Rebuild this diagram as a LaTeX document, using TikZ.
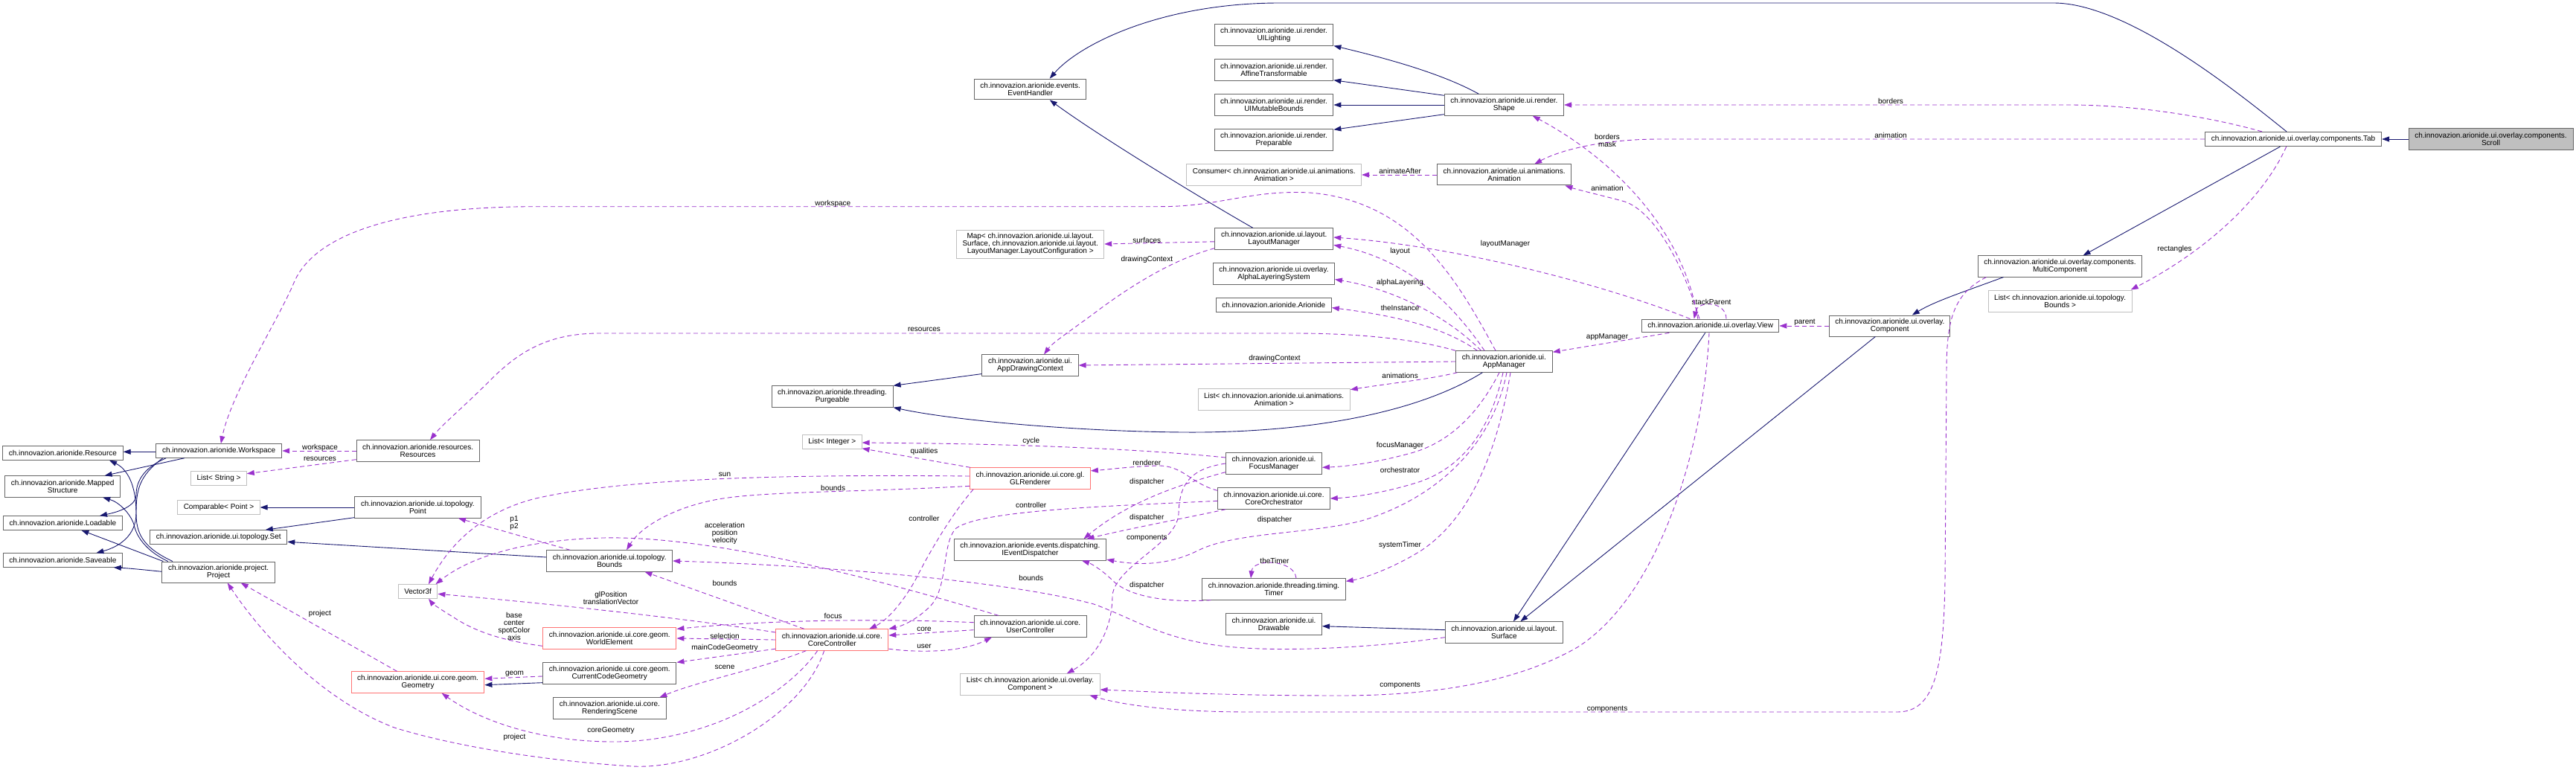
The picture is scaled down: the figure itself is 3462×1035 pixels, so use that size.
\documentclass[tikz,border=0pt]{standalone}
\usepackage{fontspec}
\setmainfont{Liberation Sans}
\usetikzlibrary{arrows.meta,calc}
\definecolor{inhc}{HTML}{191970}
\definecolor{usec}{HTML}{9A32CD}
\definecolor{boxc}{HTML}{666666}
\definecolor{redc}{HTML}{FF7373}
\definecolor{tmplc}{HTML}{BFBFBF}
\definecolor{scrollc}{HTML}{BFBFBF}
\begin{document}
\begin{tikzpicture}[x=1pt,y=-1pt,
  every node/.style={font=\fontsize{10}{10}\selectfont, inner sep=0pt, align=center},
  cls/.style={draw=boxc, line width=1pt, fill=white},
  tpl/.style={draw=tmplc, line width=1pt, fill=white},
  trunc/.style={draw=redc, line width=1pt, fill=white},
  cur/.style={draw=boxc, line width=1pt, fill=scrollc},
  sz/.style 2 args={minimum width=#1pt, minimum height=#2pt},
  inh/.style={draw=inhc, line width=0.9pt, -{Triangle[length=10pt,width=7pt]}},
  use/.style={draw=usec, line width=0.9pt, dash pattern=on 6pt off 4pt, -{Triangle[length=10pt,width=7pt]}},
  lbl/.style={fill=none}
]
\useasboundingbox (0,0) rectangle (3462,1035);
% ---------- nodes ----------
\node[cls,sz={161.6}{18.5}] (Resource) at (84.4,609) {ch.innovazion.arionide.Resource};
\node[cls,sz={169}{18.5}] (Workspace) at (294.2,606) {ch.innovazion.arionide.Workspace};
\node[cls,sz={155}{28.3}] (Mapped) at (84.2,654) {ch.innovazion.arionide.Mapped\\Structure};
\node[cls,sz={159.8}{18.5}] (Loadable) at (84.4,703) {ch.innovazion.arionide.Loadable};
\node[cls,sz={159.8}{18.5}] (Saveable) at (84.4,753) {ch.innovazion.arionide.Saveable};
\node[cls,sz={151.7}{28}] (Project) at (293.7,769) {ch.innovazion.arionide.project.\\Project};
\node[cls,sz={165}{28.3}] (Resources) at (561.6,606) {ch.innovazion.arionide.resources.\\Resources};
\node[tpl,sz={74.6}{18.5}] (ListString) at (294,643) {List< String >};
\node[tpl,sz={110.3}{19}] (Comparable) at (294,682) {Comparable< Point >};
\node[cls,sz={169.2}{28.3}] (Point) at (561.4,682) {ch.innovazion.arionide.ui.topology.\\Point};
\node[cls,sz={184}{18.6}] (Set) at (293.8,722) {ch.innovazion.arionide.ui.topology.Set};
\node[tpl,sz={52.7}{18.5}] (Vector) at (561.6,795) {Vector3f};
\node[trunc,sz={178.6}{28.3}] (Geometry) at (561.6,917) {ch.innovazion.arionide.ui.core.geom.\\Geometry};
\node[tpl,sz={79.5}{19}] (ListInteger) at (1118.3,594) {List< Integer >};
\node[cls,sz={168.8}{28.3}] (Bounds) at (819.2,754) {ch.innovazion.arionide.ui.topology.\\Bounds};
\node[trunc,sz={179.5}{28.3}] (WorldElement) at (819.2,858) {ch.innovazion.arionide.ui.core.geom.\\WorldElement};
\node[trunc,sz={151}{28.3}] (CoreController) at (1118.3,860) {ch.innovazion.arionide.ui.core.\\CoreController};
\node[cls,sz={179.5}{28.3}] (CurrentCode) at (819.2,905) {ch.innovazion.arionide.ui.core.geom.\\CurrentCodeGeometry};
\node[cls,sz={151.3}{28.3}] (RenderingScene) at (819.4,952) {ch.innovazion.arionide.ui.core.\\RenderingScene};
\node[trunc,sz={161.7}{28.3}] (GLRenderer) at (1384.5,643) {ch.innovazion.arionide.ui.core.gl.\\GLRenderer};
\node[cls,sz={129}{28.3}] (FocusManager) at (1712,623) {ch.innovazion.arionide.ui.\\FocusManager};
\node[cls,sz={150.5}{28.3}] (CoreOrchestrator) at (1712,670) {ch.innovazion.arionide.ui.core.\\CoreOrchestrator};
\node[cls,sz={204.6}{28.3}] (Dispatcher) at (1384.4,739) {ch.innovazion.arionide.events.dispatching.\\IEventDispatcher};
\node[cls,sz={192.4}{28.3}] (Timer) at (1712,792) {ch.innovazion.arionide.threading.timing.\\Timer};
\node[cls,sz={151}{28.3}] (UserController) at (1384.7,842) {ch.innovazion.arionide.ui.core.\\UserController};
\node[cls,sz={129}{28.3}] (Drawable) at (1712,839) {ch.innovazion.arionide.ui.\\Drawable};
\node[cls,sz={158.2}{28.3}] (Surface) at (2021.4,850) {ch.innovazion.arionide.ui.layout.\\Surface};
\node[tpl,sz={187.2}{28.3}] (ListComponent) at (1384.4,920) {List< ch.innovazion.arionide.ui.overlay.\\Component >};
\node[cls,sz={150}{27.7}] (EventHandler) at (1384.7,120) {ch.innovazion.arionide.events.\\EventHandler};
\node[cls,sz={159.8}{28.1}] (UILighting) at (1712,47) {ch.innovazion.arionide.ui.render.\\UILighting};
\node[cls,sz={159.8}{28.5}] (Affine) at (1712,94) {ch.innovazion.arionide.ui.render.\\AffineTransformable};
\node[cls,sz={159.8}{28.9}] (Mutable) at (1712,141) {ch.innovazion.arionide.ui.render.\\UIMutableBounds};
\node[cls,sz={159.8}{28.5}] (Preparable) at (1712,188) {ch.innovazion.arionide.ui.render.\\Preparable};
\node[cls,sz={160.2}{28.4}] (Shape) at (2021.4,141) {ch.innovazion.arionide.ui.render.\\Shape};
\node[tpl,sz={234.7}{28.1}] (Consumer) at (1712.2,235) {Consumer< ch.innovazion.arionide.ui.animations.\\Animation >};
\node[cls,sz={180}{28}] (Animation) at (2021.6,235) {ch.innovazion.arionide.ui.animations.\\Animation};
\node[tpl,sz={198}{38}] (Map) at (1384.7,328) {Map< ch.innovazion.arionide.ui.layout.\\Surface, ch.innovazion.arionide.ui.layout.\\LayoutManager.LayoutConfiguration >};
\node[cls,sz={159.1}{28.5}] (LayoutManager) at (1712.2,321) {ch.innovazion.arionide.ui.layout.\\LayoutManager};
\node[cls,sz={162.8}{28.1}] (Alpha) at (1712,368) {ch.innovazion.arionide.ui.overlay.\\AlphaLayeringSystem};
\node[cls,sz={155.1}{18.9}] (Arionide) at (1711.8,410) {ch.innovazion.arionide.Arionide};
\node[cls,sz={129.1}{28.1}] (DrawingContext) at (1384.5,491) {ch.innovazion.arionide.ui.\\AppDrawingContext};
\node[cls,sz={129.6}{28.5}] (AppManager) at (2021.4,486) {ch.innovazion.arionide.ui.\\AppManager};
\node[tpl,sz={204.1}{28.4}] (ListAnimation) at (1712.2,537) {List< ch.innovazion.arionide.ui.animations.\\Animation >};
\node[cls,sz={163}{28.3}] (Purgeable) at (1118.6,533) {ch.innovazion.arionide.threading.\\Purgeable};
\node[cls,sz={184.2}{17.8}] (View) at (2298.7,438) {ch.innovazion.arionide.ui.overlay.View};
\node[cls,sz={162.2}{28}] (Component) at (2539.8,438) {ch.innovazion.arionide.ui.overlay.\\Component};
\node[cls,sz={219.6}{28.1}] (Multi) at (2768.5,358) {ch.innovazion.arionide.ui.overlay.components.\\MultiComponent};
\node[tpl,sz={193.2}{29}] (ListBounds) at (2768.6,404.5) {List< ch.innovazion.arionide.ui.topology.\\Bounds >};
\node[cls,sz={237.1}{19.2}] (Tab) at (3082,187) {ch.innovazion.arionide.ui.overlay.components.Tab};
\node[cur,sz={221}{28.8}] (Scroll) at (3347.5,187) {ch.innovazion.arionide.ui.overlay.components.\\Scroll};
% ---------- inheritance ----------
\draw[inh] (Scroll.west) -- (Tab.east);
\draw[inh] ([xshift=-9pt]Tab.north) .. controls (3012,128) and (2860,4) .. (2760,4) -- (1720,4) .. controls (1560,4) and (1450,60) .. ([xshift=26pt]EventHandler.north);
\draw[inh] ([xshift=-17.6pt]Tab.south) -- ([xshift=31pt]Multi.north);
\draw[inh] ([xshift=-76pt]Multi.south) .. controls (2640,392) and (2600,405) .. ([xshift=30pt]Component.north);
\draw[inh] ([xshift=-19.4pt]Component.south) -- ([xshift=22pt]Surface.north);
\draw[inh] ([xshift=-7pt]View.south) -- ([xshift=12.6pt]Surface.north);
\draw[inh] ([yshift=3.3pt]Surface.west) -- ([yshift=-2.7pt]Drawable.east);
\draw[inh] ([xshift=-34pt]Shape.north) .. controls (1940,100) and (1870,80) .. (UILighting.south east);
\draw[inh] ([yshift=-2pt]Shape.north west) -- ([yshift=1pt]Affine.south east);
\draw[inh] (Shape.west) -- (Mutable.east);
\draw[inh] ([yshift=2pt]Shape.south west) -- ([yshift=-1pt]Preparable.north east);
\draw[inh] ([xshift=-28.5pt]LayoutManager.north) .. controls (1620,270) and (1480,185) .. ([xshift=26pt]EventHandler.south);
\draw[inh] ([yshift=3pt]DrawingContext.south west) -- (Purgeable.north east);
\draw[inh] ([xshift=-29pt]AppManager.south) .. controls (1880,570) and (1700,582) .. (1590,581) .. controls (1450,580) and (1280,565) .. (Purgeable.south east);
\draw[inh] ([yshift=-1.3pt]Workspace.west) -- ([yshift=1.7pt]Resource.east);
\draw[inh] ([xshift=-46.4pt]Workspace.south) -- ([xshift=56.4pt]Mapped.north);
\draw[inh] ([xshift=-71pt]Workspace.south) .. controls (190,630) and (183,650) .. (183,665) .. controls (183,680) and (160,688) .. ([xshift=49.6pt]Loadable.north);
\draw[inh] ([xshift=-75.4pt]Workspace.south) .. controls (186,640) and (183,660) .. (183,690) .. controls (183,720) and (160,735) .. ([xshift=45pt]Saveable.north);
\draw[inh] ([xshift=-61.7pt]Project.north) .. controls (190,735) and (183,715) .. (183,690) .. controls (183,650) and (170,630) .. ([xshift=62.6pt]Resource.south);
\draw[inh] ([xshift=-68pt]Project.north) .. controls (195,740) and (183,720) .. (180,705) .. controls (175,690) and (160,675) .. ([xshift=54pt]Mapped.south);
\draw[inh] ([xshift=2pt]Project.north west) -- ([xshift=25pt]Loadable.south);
\draw[inh] ([yshift=0.7pt]Project.west) .. controls (195,766) and (175,764) .. ([xshift=-12pt]Saveable.south east);
\draw[inh] (Point.west) -- (Comparable.east);
\draw[inh] ([yshift=1pt]Point.south west) -- ([xshift=63pt]Set.north);
\draw[inh] ([yshift=5pt]Bounds.west) -- ([yshift=-6.3pt]Set.east);
\draw[inh] ([yshift=2pt]CurrentCode.south west) -- ([yshift=-3.7pt]Geometry.east);
% ---------- usage ----------
\draw[use] ([xshift=-42pt]Tab.north) .. controls (2980,160) and (2880,141) .. (2780,141) -- (Shape.east);
\node[lbl] (lb1) at (2541,136) {borders};
\draw[use] (Tab.west) -- (2230,187) .. controls (2160,187) and (2100,200) .. ([xshift=40.6pt]Animation.north);
\node[lbl] (lb2) at (2541,182.4) {animation};
\draw[use] ([xshift=-9.3pt]Tab.south) .. controls (3040,270) and (2960,340) .. ([xshift=-2pt]ListBounds.north east);
\node[lbl] (lb3) at (2922.5,334.8) {rectangles};
\draw[use] ([xshift=-99pt]Multi.south) .. controls (2625,395) and (2616,430) .. (2616,500) -- (2614,780) .. controls (2612,900) and (2600,957) .. (2550,957) -- (1680,957) .. controls (1560,957) and (1500,945) .. ([xshift=-14pt]ListComponent.south east);
\node[lbl] (lb4) at (2160,953.3) {components};
\draw[use] ([xshift=-1.7pt]View.south) .. controls (2290,600) and (2230,800) .. (2120,870) .. controls (2050,910) and (1950,935) .. (1800,935) .. controls (1650,935) and (1550,930) .. ([yshift=-7pt]ListComponent.east);
\node[lbl] (lb5) at (1881.6,921.7) {components};
\draw[use] (FocusManager.west) .. controls (1600,630) and (1585,650) .. (1584,690) .. controls (1583,730) and (1500,760) .. (1495,800) .. controls (1495,850) and (1470,885) .. ([xshift=49.3pt]ListComponent.north);
\node[lbl] (lb5b) at (1541.3,723.3) {components};
\draw[use] ([xshift=21.3pt]View.north) .. controls (2320,405) and (2282,403) .. ([xshift=-22pt]View.north);
\node[lbl] (lb6) at (2300,405.5) {stackParent};
\draw[use] (Component.west) -- (View.east);
\node[lbl] (lb7) at (2425.5,433.6) {parent};
\draw[use] ([xshift=-55.3pt]View.south) -- ([yshift=-2pt]AppManager.north east);
\node[lbl] (lb8) at (2160,452.8) {appManager};
\draw[use] ([xshift=-17pt]View.north) .. controls (2265,320) and (2180,220) .. ([xshift=38.3pt]Shape.south);
\node[lbl] (lb9) at (2160,188.8) {borders\\mask};
\draw[use] ([xshift=-14.7pt]View.north) .. controls (2260,350) and (2220,280) .. (2180,270) .. controls (2150,262) and (2120,255) .. ([xshift=-8.7pt]Animation.south east);
\node[lbl] (lb10) at (2160,252.7) {animation};
\draw[use] ([xshift=-27.3pt]View.north) .. controls (2150,380) and (1950,330) .. ([yshift=2pt]LayoutManager.east);
\node[lbl] (lb11) at (2023,327.8) {layoutManager};
\draw[use] ([xshift=-26.4pt]AppManager.north) .. controls (1960,420) and (1900,350) .. ([yshift=-8.3pt]LayoutManager.east);
\node[lbl] (lb12) at (1881.6,337.8) {layout};
\draw[use] ([xshift=-31pt]AppManager.north) .. controls (1950,430) and (1880,390) .. ([yshift=-7.5pt]Alpha.east);
\node[lbl] (lb13) at (1881.6,379.6) {alphaLayering};
\draw[use] ([xshift=-36pt]AppManager.north) .. controls (1940,440) and (1880,425) .. ([yshift=-3.6pt]Arionide.east);
\node[lbl] (lb14) at (1881.6,414.3) {theInstance};
\draw[use] (AppManager.west) -- (DrawingContext.east);
\node[lbl] (lb15) at (1713,482.4) {drawingContext};
\draw[use] ([xshift=2.4pt]AppManager.south west) .. controls (1920,510) and (1870,515) .. ([yshift=-1.4pt]ListAnimation.north east);
\node[lbl] (lb16) at (1881.6,505.4) {animations};
\draw[use] (AppManager.north west) .. controls (1900,455) and (1820,448) .. (1740,448) -- (806,448) .. controls (740,448) and (700,470) .. (660,510) .. controls (620,550) and (595,570) .. ([xshift=16.4pt]Resources.north);
\node[lbl] (lb17) at (1242,443.3) {resources};
\draw[use] ([xshift=-11.4pt]AppManager.north) .. controls (1960,380) and (1900,270) .. (1760,259) .. controls (1680,255) and (1640,277.7) .. (1560,277.7) -- (720,277.7) .. controls (520,277.7) and (420,320) .. (395,380) .. controls (375,428) and (310,530) .. ([xshift=2.7pt]Workspace.north);
\node[lbl] (lb18) at (1119.3,273.7) {workspace};
\draw[use] ([xshift=-6.4pt]AppManager.south) .. controls (1995,540) and (1960,590) .. (1900,608) .. controls (1850,622) and (1810,627) .. ([yshift=-5.3pt]FocusManager.east);
\node[lbl] (lb19) at (1881.6,599.3) {focusManager};
\draw[use] ([xshift=-1.4pt]AppManager.south) .. controls (2005,570) and (1970,630) .. (1900,650) .. controls (1850,665) and (1810,669) .. (CoreOrchestrator.east);
\node[lbl] (lb20) at (1881.6,632.3) {orchestrator};
\draw[use] ([xshift=8.6pt]AppManager.south) .. controls (2010,620) and (1970,700) .. (1910,740) .. controls (1870,765) and (1830,778) .. ([yshift=-4pt]Timer.north east);
\node[lbl] (lb21) at (1881.6,732.7) {systemTimer};
\draw[use] ([xshift=3.6pt]AppManager.south) .. controls (2005,600) and (1930,670) .. (1830,700) .. controls (1760,718) and (1660,715) .. (1610,740) .. controls (1570,760) and (1530,760) .. ([yshift=1.5pt]Dispatcher.south east);
\node[lbl] (lb22) at (1713,699.3) {dispatcher};
\draw[use] ([yshift=-6.7pt]Surface.west) .. controls (1850,870) and (1720,878) .. (1640,868) .. controls (1560,858) and (1520,830) .. (1470,812) .. controls (1350,780) and (1100,760) .. (Bounds.east);
\node[lbl] (lb23) at (1385.7,776.7) {bounds};
\draw[use] ([xshift=1pt]GLRenderer.north west) -- ([yshift=1.2pt]ListInteger.south east);
\node[lbl] (lb24) at (1242,607.3) {qualities};
\draw[use] ([yshift=8pt]FocusManager.west) .. controls (1550,605) and (1400,598) .. (1250,596) -- ([yshift=-1pt]ListInteger.east);
\node[lbl] (lb25) at (1385.7,593.3) {cycle};
\draw[use] ([yshift=3pt]GLRenderer.west) .. controls (1100,638) and (850,640) .. (720,670) .. controls (640,690) and (600,740) .. ([xshift=14.4pt]Vector.north);
\node[lbl] (lb26) at (974,637.7) {sun};
\draw[use] ([xshift=-42.7pt]UserController.north) .. controls (1150,770) and (950,720) .. (810,723) .. controls (700,726) and (630,750) .. ([xshift=-3pt]Vector.north east);
\node[lbl] (lb27) at (974,716.7) {acceleration\\position\\velocity};
\draw[use] ([yshift=-10.3pt]GLRenderer.west) .. controls (1150,662) and (1020,660) .. (960,672) .. controls (900,684) and (860,710) .. ([xshift=22.8pt]Bounds.north);
\node[lbl] (lb28) at (1119.6,655.7) {bounds};
\draw[use] ([xshift=5pt]GLRenderer.south west) .. controls (1280,690) and (1250,740) .. (1230,780) .. controls (1210,815) and (1190,835) .. ([xshift=50pt]CoreController.north);
\node[lbl] (lb29) at (1242,696.7) {controller};
\draw[use] ([yshift=-3.3pt]CoreOrchestrator.west) .. controls (1500,680) and (1320,685) .. (1285,710) .. controls (1265,730) and (1275,790) .. (1250,815) .. controls (1230,835) and (1210,842) .. (CoreController.north east);
\node[lbl] (lb30) at (1385.7,678.7) {controller};
\draw[use] ([yshift=-4pt]CoreOrchestrator.north west) .. controls (1600,650) and (1590,625) .. (1555,626) .. controls (1520,627) and (1490,631) .. ([yshift=-4.5pt]GLRenderer.north east);
\node[lbl] (lb31) at (1541.3,621.7) {renderer};
\draw[use] ([yshift=3pt]FocusManager.south west) .. controls (1570,655) and (1510,680) .. ([xshift=72pt]Dispatcher.north);
\node[lbl] (lb32) at (1541.3,647.7) {dispatcher};
\draw[use] ([xshift=11pt]CoreOrchestrator.south west) .. controls (1600,695) and (1520,710) .. ([xshift=76pt]Dispatcher.north);
\node[lbl] (lb33) at (1541.3,695.7) {dispatcher};
\draw[use] ([xshift=12pt]Timer.south west) .. controls (1580,810) and (1520,805) .. (1495,780) .. controls (1480,765) and (1465,757) .. ([xshift=69.6pt]Dispatcher.south);
\node[lbl] (lb34) at (1541.3,786.7) {dispatcher};
\draw[use] ([xshift=30pt]Timer.north) .. controls (1740,752) and (1684,750) .. ([xshift=-31pt]Timer.north);
\node[lbl] (lb35) at (1713,754.3) {theTimer};
\draw[use] ([xshift=-37.5pt]CoreController.north) -- ([xshift=47.3pt]Bounds.south);
\node[lbl] (lb36) at (974,784.3) {bounds};
\draw[use] ([yshift=5.3pt]UserController.west) .. controls (1200,832) and (1050,832) .. ([yshift=-2pt]WorldElement.north east);
\node[lbl] (lb37) at (1119.6,828.3) {focus};
\draw[use] (CoreController.west) -- (WorldElement.east);
\node[lbl] (lb38) at (974,854.7) {selection};
\draw[use] ([yshift=2.5pt]CoreController.south west) -- (CurrentCode.north east);
\node[lbl] (lb39) at (974,870.7) {mainCodeGeometry};
\draw[use] ([xshift=-35pt]CoreController.south) .. controls (1020,900) and (940,915) .. ([xshift=67pt]RenderingScene.north);
\node[lbl] (lb40) at (974,896.7) {scene};
\draw[use] ([xshift=-19.6pt]CoreController.south) .. controls (1060,930) and (960,995) .. (830,997) .. controls (720,998) and (640,965) .. ([xshift=32pt]Geometry.south);
\node[lbl] (lb41) at (821,981.7) {coreGeometry};
\draw[use] ([xshift=-10.7pt]CoreController.south) .. controls (1080,960) and (950,1035) .. (850,1030) .. controls (720,1022) and (600,1000) .. (530,978) .. controls (430,940) and (350,850) .. ([xshift=12pt]Project.south);
\node[lbl] (lb42) at (691.5,990.7) {project};
\draw[use] ([xshift=-28pt]Geometry.north) -- ([xshift=30pt]Project.south);
\node[lbl] (lb43) at (430,825) {project};
\draw[use] ([yshift=-4pt]CurrentCode.west) -- ([yshift=4.7pt]Geometry.east);
\node[lbl] (lb43b) at (691.5,905.7) {geom};
\draw[use] ([yshift=-10.3pt]WorldElement.west) .. controls (680,862) and (640,850) .. (610,830) .. controls (590,818) and (580,810) .. ([xshift=14.4pt]Vector.south);
\node[lbl] (lb44) at (691,841.7) {base\\center\\spotColor\\axis};
\draw[use] ([yshift=10pt]CoreController.west) .. controls (900,828) and (700,808) .. ([yshift=-3.3pt]Vector.east);
\node[lbl] (lb45) at (821,804.3) {glPosition\\translationVector};
\draw[use] ([xshift=-53pt]Bounds.north) -- ([xshift=54.6pt]Point.south);
\node[lbl] (lb46) at (691,703.3) {p1\\p2};
\draw[use] (Resources.west) -- (Workspace.east);
\node[lbl] (lb47) at (430,601.7) {workspace};
\draw[use] ([yshift=3pt]Resources.south west) -- ([yshift=6.3pt]ListString.east);
\node[lbl] (lb48) at (430,616.7) {resources};
\draw[use] ([yshift=-4.7pt]UserController.west) -- ([yshift=6pt]CoreController.east);
\node[lbl] (lb49) at (1242,845.7) {core};
\draw[use] ([yshift=2.5pt]CoreController.south east) .. controls (1230,877) and (1290,878) .. ([xshift=-51.7pt]UserController.south);
\node[lbl] (lb50) at (1242,869.3) {user};
\draw[use] ([yshift=-3.8pt]LayoutManager.west) -- (Map.east);
\node[lbl] (lb51) at (1541.3,322.6) {surfaces};
\draw[use] ([yshift=2pt]LayoutManager.south west) .. controls (1590,345) and (1540,370) .. (1480,414) .. controls (1440,444) and (1415,460) .. ([xshift=18.5pt]DrawingContext.north);
\node[lbl] (lb52) at (1541.3,348.5) {drawingContext};
\draw[use] (Animation.west) -- (Consumer.east);
\node[lbl] (lb53) at (1881.6,230) {animateAfter};
\end{tikzpicture}
\end{document}
